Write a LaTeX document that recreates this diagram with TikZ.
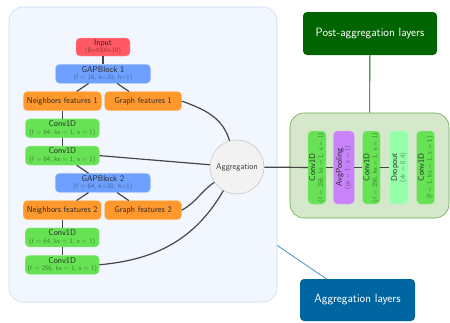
\documentclass[tikz,border=0pt]{standalone}
\usepackage{graphicx}
\usepackage{xcolor}
\usepackage{tikz}
\usetikzlibrary{positioning,calc}

\definecolor{panelbg}{RGB}{241,246,255}
\definecolor{panelbd}{RGB}{200,218,248}
\definecolor{cinput}{RGB}{255,90,100}
\definecolor{cgap}{RGB}{110,160,255}
\definecolor{cfeat}{RGB}{255,152,45}
\definecolor{cconv}{RGB}{102,226,84}
\definecolor{cpool}{RGB}{200,130,250}
\definecolor{cdrop}{RGB}{150,255,170}
\definecolor{postbg}{RGB}{213,232,204}
\definecolor{postbd}{RGB}{100,165,70}
\definecolor{cposthead}{RGB}{0,100,0}
\definecolor{cagghead}{RGB}{0,102,162}
\definecolor{caggline}{RGB}{75,150,200}
\definecolor{cline}{RGB}{70,70,70}
\definecolor{aggbg}{RGB}{242,242,242}

\newcommand{\subinfo}[2][black!45]{{\fontsize{9.5}{10}\selectfont\color{#1}#2}}
\newcommand{\vlabel}[2]{\rotatebox{90}{\begin{tabular}{@{}c@{}}#1\\[-3pt]#2\end{tabular}}}

\begin{document}
\begin{tikzpicture}[
    node distance=0.4cm and 0.15cm,
    layer/.style={draw=#1!60, line width=0.4pt, fill=#1, rounded corners=0.2cm,
                  minimum height=0.95cm, inner sep=0pt, align=center,
                  font=\sffamily\large, text=black!85},
    vlayer/.style={layer=#1, minimum width=0.9cm, minimum height=3.65cm},
    panel/.style={draw=#1, line width=0.8pt, rounded corners=0.7cm},
    head/.style={fill=#1, rounded corners=0.2cm, text=white, inner sep=0pt,
                 font=\sffamily\fontsize{17}{20}\selectfont},
    link/.style={draw=cline, line width=1.7pt},
  ]
  \useasboundingbox (0,0) rectangle (22.5,-16.1);
  % Panels
  \node[panel=panelbd, fill=panelbg, minimum width=13.4cm, minimum height=14.75cm]
        (leftpanel) at (7.15,-7.725) {};
  \node[panel=postbd, fill=postbg, minimum width=7.95cm, minimum height=5.25cm]
        (postpanel) at (18.475,-8.275) {};
  % Aggregation stack
  \node[layer=cinput, minimum width=2.7cm, minimum height=0.9cm] (input) at (5.15,-2.35)
        {Input\\[-3pt]\subinfo[cinput!60!black]{(Bx4000x19)}};
  \node[layer=cgap, minimum width=4.75cm, below=of input] (gap1)
        {GAPBlock 1\\[-3pt]\subinfo[cgap!60!black]{(f = 16, k=20, h=1)}};
  \node[layer=cfeat, minimum width=3.9cm, below left=0.4cm and 0.075cm of gap1.south] (nb1)
        {Neighbors features 1};
  \node[layer=cfeat, minimum width=3.85cm, right=of nb1] (gf1) {Graph features 1};
  \node[layer=cconv, minimum width=3.7cm, below=of nb1] (ca)
        {Conv1D\\[-3pt]\subinfo[cconv!55!black]{(f = 64, ks = 1, s = 1)}};
  \node[layer=cconv, minimum width=3.7cm, below=of ca] (cb)
        {Conv1D\\[-3pt]\subinfo[cconv!55!black]{(f = 64, ks = 1, s = 1)}};
  \node[layer=cgap, minimum width=4.75cm, below=of cb, xshift=2.025cm] (gap2)
        {GAPBlock 2\\[-3pt]\subinfo[cgap!60!black]{(f = 64, k=20, h=1)}};
  \node[layer=cfeat, minimum width=3.9cm, below left=0.4cm and 0.075cm of gap2.south] (nb2)
        {Neighbors features 2};
  \node[layer=cfeat, minimum width=3.85cm, right=of nb2] (gf2) {Graph features 2};
  \node[layer=cconv, minimum width=3.7cm, below=of nb2] (cc)
        {Conv1D\\[-3pt]\subinfo[cconv!55!black]{(f = 64, ks = 1, s = 1)}};
  \node[layer=cconv, minimum width=3.7cm, below=of cc] (cd)
        {Conv1D\\[-3pt]\subinfo[cconv!55!black]{(f = 256, ks = 1, s = 1)}};
  \node[circle, draw=black!22, line width=0.8pt, fill=aggbg, minimum size=2.7cm,
        inner sep=0pt, font=\sffamily\large, text=black!80] (aggr) at (11.85,-8.35)
        {Aggregation};
  % Post-aggregation stack
  \node[vlayer=cconv] (pc1) at (15.85,-8.375)
        {\vlabel{Conv1D}{\subinfo[cconv!55!black]{(f = 256, ks = 1, s = 1)}}};
  \node[vlayer=cpool, minimum width=1.05cm, right=0.35cm of pc1] (pa)
        {\vlabel{AvgPooling}{\subinfo[cpool!55!black]{(ps = 1, s = 1)}}};
  \node[vlayer=cconv, minimum width=0.85cm, right=0.4cm of pa] (pc2)
        {\vlabel{Conv1D}{\subinfo[cconv!55!black]{(f = 256, ks = 1, s = 1)}}};
  \node[vlayer=cdrop, minimum width=0.95cm, right=0.45cm of pc2] (pd)
        {\vlabel{Dropout}{\subinfo[cdrop!55!black]{(dr = 0.4)}}};
  \node[vlayer=cconv, right=0.4cm of pd] (pc3)
        {\vlabel{Conv1D}{\subinfo[cconv!55!black]{(f = 1, ks = 1, s = 1)}}};
  % Headings
  \node[head=cposthead, minimum width=6.7cm, minimum height=2.15cm] (posthead)
        at (18.5,-1.675) {Post-aggregation layers};
  \node[head=cagghead, minimum width=5.75cm, minimum height=2.1cm] (agghead)
        at (17.875,-15.0) {Aggregation layers};

  \draw[link] (input) -- (gap1);
  \draw[link] (gap1) -- (nb1);
  \draw[link] (gap1) -- (gf1);
  \draw[link] (nb1) -- (ca);
  \draw[link] (ca) -- (cb);
  \draw[link] (cb) -- (gap2);
  \draw[link] (gap2) -- (nb2);
  \draw[link] (gap2) -- (gf2);
  \draw[link] (nb2) -- (cc);
  \draw[link] (cc) -- (cd);
  \draw[link] (gf1.east) to[out=-20, in=106] (aggr);
  \draw[link] (cb.east) -- (aggr);
  \draw[link] (gf2.east) to[out=28, in=-146] (aggr);
  \draw[link] (cd.east) to[out=5, in=-120] (aggr);
  \draw[link] (aggr) -- (pc1);
  \draw[link] (pc1) -- (pa);
  \draw[link] (pa) -- (pc2);
  \draw[link] (pc2) -- (pd);
  \draw[cposthead, line width=1.2pt] (posthead) -- (postpanel);
  \draw[caggline, line width=1.2pt] (leftpanel) -- (agghead);
\end{tikzpicture}
\end{document}
